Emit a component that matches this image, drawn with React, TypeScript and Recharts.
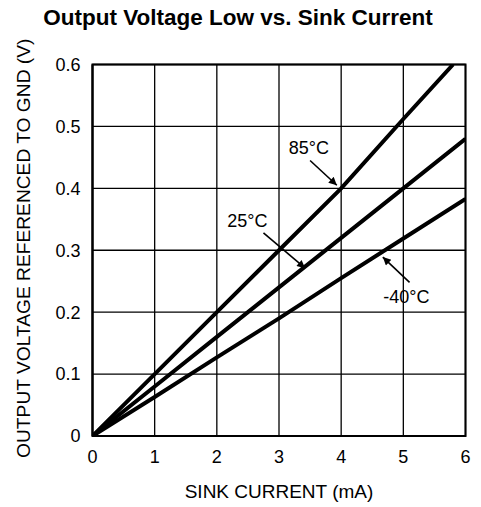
import React from 'react';
import {
  LineChart,
  Line,
  XAxis,
  YAxis,
  CartesianGrid,
  ReferenceLine,
  ReferenceDot,
  ReferenceArea,
} from 'recharts';

const FONT = '"Liberation Sans", Arial, Helvetica, sans-serif';

const titleText = 'Output Voltage Low vs. Sink Current';
const xAxisTitle = 'SINK CURRENT (mA)';
const yAxisTitle = 'OUTPUT VOLTAGE REFERENCED TO GND (V)';

const xTicks = [0, 1, 2, 3, 4, 5, 6];
const yTicks = [0, 0.1, 0.2, 0.3, 0.4, 0.5, 0.6];

const current85 = [0, 1, 2, 3, 4, 5, 5.8];
const voltage85 = [0, 0.1, 0.2, 0.3, 0.4, 0.512, 0.6];
const current25 = [0, 1, 2, 3, 4, 5, 6];
const voltage25 = [0, 0.08, 0.16, 0.24, 0.32, 0.4, 0.48];
const currentM40 = [0, 1, 2, 3, 4, 5, 6];
const voltageM40 = [0, 0.063, 0.127, 0.19, 0.255, 0.319, 0.383];

const annoText = ['85°C', '25°C', '-40°C'];
const annoX = [3.48, 2.49, 5.05];
const annoY = [0.465, 0.348, 0.224];
const arrowFromX = [3.5, 2.75, 5.1];
const arrowFromY = [0.445, 0.328, 0.248];
const arrowToX = [3.93, 3.42, 4.67];
const arrowToY = [0.405, 0.271, 0.289];

const build = (xs: number[], ys: number[]) => xs.map((x, i) => ({ i: x, v: ys[i] }));

const series = [
  { name: '85°C', data: build(current85, voltage85) },
  { name: '25°C', data: build(current25, voltage25) },
  { name: '-40°C', data: build(currentM40, voltageM40) },
];

const annotations = annoText.map((t, k) => ({
  text: t,
  x: annoX[k],
  y: annoY[k],
  fx: arrowFromX[k],
  fy: arrowFromY[k],
  tx: arrowToX[k],
  ty: arrowToY[k],
}));

const YLabel = (props: any) => {
  const vb = props.viewBox || {};
  const cx = vb.x + 23;
  const cy = vb.y + vb.height / 2 - 2;
  return (
    <text
      x={cx}
      y={cy}
      transform={`rotate(-90, ${cx}, ${cy})`}
      textAnchor="middle"
      dominantBaseline="central"
      fontFamily={FONT}
      fontSize={19.2}
      fill="#000"
    >
      {yAxisTitle}
    </text>
  );
};

const XLabel = (props: any) => {
  const vb = props.viewBox || {};
  return (
    <text
      x={vb.x + vb.width / 2}
      y={vb.y + 62}
      textAnchor="middle"
      fontFamily={FONT}
      fontSize={19}
      fill="#000"
    >
      {xAxisTitle}
    </text>
  );
};

export default function App() {
  return (
    <div style={{ position: 'absolute', left: 0, top: 0, background: '#fff' }}>
      <LineChart
        width={481}
        height={507}
        margin={{ top: 64.5, right: 15.5, bottom: 0, left: 0 }}
        style={{ fontFamily: FONT }}
      >
        <defs>
          <marker
            id="arrowHead"
            viewBox="0 0 10 10"
            refX="10"
            refY="5"
            markerWidth="11"
            markerHeight="8"
            markerUnits="userSpaceOnUse"
            orient="auto"
          >
            <path d="M0,0 L10,5 L0,10 z" fill="#000" />
          </marker>
        </defs>
        <text
          x={238}
          y={25}
          textAnchor="middle"
          fontFamily={FONT}
          fontSize={22.5}
          fontWeight="bold"
          fill="#000"
        >
          {titleText}
        </text>
        <CartesianGrid stroke="#000" strokeWidth={1.3} />
        <XAxis
          dataKey="i"
          type="number"
          domain={[0, 6]}
          ticks={xTicks}
          allowDataOverflow
          height={71}
          tickLine={false}
          tickSize={0}
          tickMargin={14}
          axisLine={{ stroke: '#000', strokeWidth: 2 }}
          tick={{ fill: '#000', fontSize: 18, fontFamily: FONT }}
          label={{ content: XLabel }}
        />
        <YAxis
          dataKey="v"
          type="number"
          domain={[0, 0.6]}
          ticks={yTicks}
          allowDataOverflow
          width={92.5}
          tickLine={false}
          tickSize={0}
          tickMargin={12}
          axisLine={{ stroke: '#000', strokeWidth: 2 }}
          tick={{ fill: '#000', fontSize: 18, fontFamily: FONT }}
          label={{ content: YLabel }}
        />
        <ReferenceArea
          x1={0}
          x2={6}
          y1={0}
          y2={0.6}
          fill="none"
          fillOpacity={0}
          stroke="#000"
          strokeWidth={2}
          ifOverflow="visible"
        />
        {series.map((s) => (
          <Line
            key={s.name}
            data={s.data}
            dataKey="v"
            type="linear"
            stroke="#000"
            strokeWidth={4}
            dot={false}
            activeDot={false}
            isAnimationActive={false}
          />
        ))}
        {annotations.map((a) => (
          <ReferenceLine
            key={'arr' + a.text}
            segment={[
              { x: a.fx, y: a.fy },
              { x: a.tx, y: a.ty },
            ]}
            stroke="#000"
            strokeWidth={1.6}
            markerEnd="url(#arrowHead)"
            ifOverflow="visible"
          />
        ))}
        {annotations.map((a) => (
          <ReferenceDot
            key={'lbl' + a.text}
            x={a.x}
            y={a.y}
            r={0}
            ifOverflow="visible"
            shape={(p: any) => (
              <text
                x={p.cx}
                y={p.cy}
                textAnchor="middle"
                dominantBaseline="central"
                fontFamily={FONT}
                fontSize={18}
                fill="#000"
              >
                {a.text}
              </text>
            )}
          />
        ))}
      </LineChart>
    </div>
  );
}
